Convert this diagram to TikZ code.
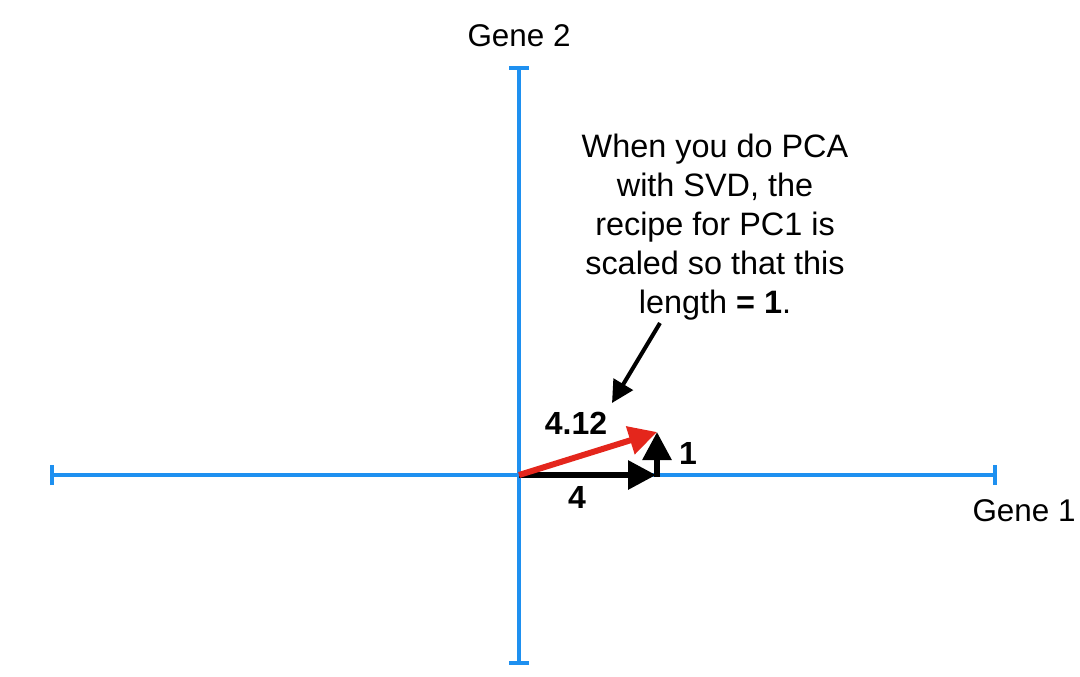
\documentclass[tikz,border=0pt]{standalone}
\usepackage{fontspec}
\setmainfont{Liberation Sans}
\usepackage{tikz}
\usetikzlibrary{arrows.meta}
\usetikzlibrary{positioning}
\definecolor{axisblue}{RGB}{30,144,240}
\definecolor{vecred}{RGB}{228,38,28}

\begin{document}
\begin{tikzpicture}
      [x=0.5pt,y=-0.5pt,
      axis/.style={draw=axisblue,line width=2pt,{Bar[width=10pt,line width=2pt]}-{Bar[width=10pt,line width=2pt]}},
      vec/.style={line width=3pt,-{Triangle[length=14pt,width=14pt]}},
      lbl/.style={inner sep=0pt,font=\fontsize{15.7}{18}\selectfont},
      num/.style={inner sep=0pt,font=\fontsize{16}{18}\selectfont\bfseries}]
\useasboundingbox (0,0) rectangle (1080,676);
\coordinate (left) at (50,475);
\coordinate (right) at (997,475);
\coordinate (top) at (519,66);
\coordinate (bottom) at (519,665);
\coordinate (origin) at (519,475);
\coordinate (xend) at (656,475);
\coordinate (pc) at (657,432);
\coordinate (tail) at (660,323);
\coordinate (tip) at (612,403);

% axes
\draw[axis] (left) -- (right);
\draw[axis] (bottom) -- (top);
\node[lbl,anchor=base] (gtwo) at (519,46) {Gene 2};
\node[lbl,anchor=base] (gone) at (1024,521) {Gene 1};

% vectors
\draw[vec] (origin) -- (xend);
\draw[vec,draw=vecred,fill=vecred] (origin) -- (pc);
\draw[vec] (657,477) -- (pc);
\node[num,anchor=base] (hyp) at (576,434) {4.12};
\node[num,anchor=base] (one) at (688,464) {1};
\node[num,anchor=base] (four) at (577,508) {4};

% note
\node[lbl,align=center,font=\fontsize{16.2}{19.5}\selectfont] (note) at (715,227)
   {When you do PCA\\with SVD, the\\recipe for PC1 is\\scaled so that this\\length \textbf{= 1}.};
\draw[line width=2pt,-{Triangle[length=11pt,width=11pt]}] (tail) -- (tip);
\end{tikzpicture}
\end{document}
